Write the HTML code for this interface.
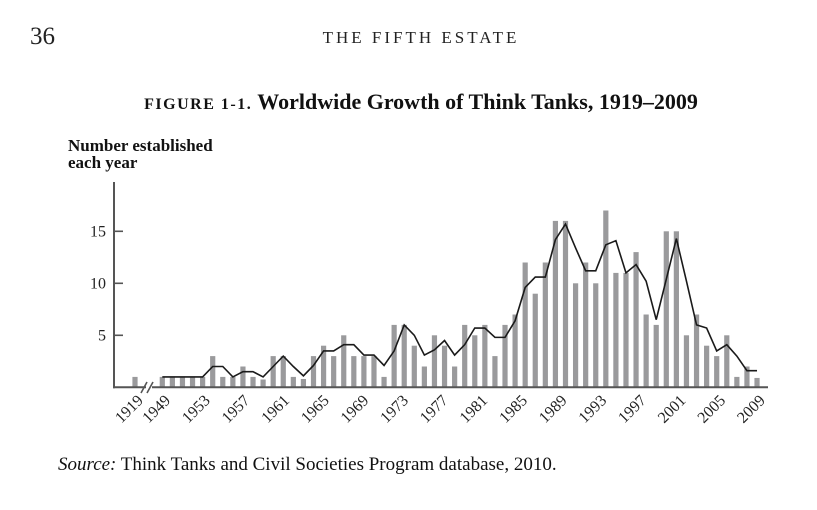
<!DOCTYPE html>
<html><head><meta charset="utf-8"><style>
body{margin:0;background:#fff;}
svg{display:block;font-family:"Liberation Serif",serif;}
</style></head><body>
<svg width="817" height="510" viewBox="0 0 817 510">
<text x="30" y="44" font-size="25" fill="#222">36</text>
<text x="421" y="43" font-size="17" letter-spacing="3" text-anchor="middle" fill="#222">THE FIFTH ESTATE</text>
<text x="421" y="109" font-size="22" text-anchor="middle" fill="#111" font-weight="bold"><tspan font-size="16" letter-spacing="1.5">FIGURE 1-1.</tspan> Worldwide Growth of Think Tanks, 1919–2009</text>
<text x="68" y="151" font-size="17" font-weight="bold" fill="#111"><tspan x="68">Number established</tspan><tspan x="68" dy="17">each year</tspan></text>
<text x="58" y="470" font-size="19" fill="#111"><tspan font-style="italic">Source:</tspan> Think Tanks and Civil Societies Program database, 2010.</text>
<g id="chart"></g>
</svg>
<script>
const earlyCategory = ["1919"];
const earlyValue = [1];
const categories = ["1949","1950","1951","1952","1953","1954","1955","1956","1957","1958","1959","1960","1961","1962","1963","1964","1965","1966","1967","1968","1969","1970","1971","1972","1973","1974","1975","1976","1977","1978","1979","1980","1981","1982","1983","1984","1985","1986","1987","1988","1989","1990","1991","1992","1993","1994","1995","1996","1997","1998","1999","2000","2001","2002","2003","2004","2005","2006","2007","2009"];
const barValues = [1,1,1,1,1,3,1,1,2,1,0.75,3,3,1,0.8,3,4,3,5,3,3,3,1,6,6,4,2,5,4,2,6,5,6,3,6,7,12,9,12,16,16,10,12,10,17,11,11,13,7,6,15,15,5,7,4,3,5,1,2,0.9];
const avgValues = [1,1,1,1,1,2,2,1,1.5,1.5,1,2,3,2,1.1,2.1,3.5,3.5,4.1,4.1,3.1,3.1,2.1,3.5,6,5,3.1,3.6,4.5,3.1,4.1,5.7,5.7,4.8,4.8,6.4,9.6,10.6,10.6,14.2,15.7,13.4,11.2,11.2,13.7,14.1,11,11.8,10.2,6.5,10.4,14.3,10.2,6,5.7,3.5,4.1,3,1.6,1.6];
const yTicks = [5,10,15];
const tickLabels = ["1949","1953","1957","1961","1965","1969","1973","1977","1981","1985","1989","1993","1997","2001","2005","2009"];

const NS="http://www.w3.org/2000/svg";
const g=document.getElementById('chart');
const x0=162.3, step=10.08, base=387.3, unit=10.4;
const xIdx=i=>x0+i*step;
const yv=v=>base-v*unit;
const xYear=y=>162.3+(y-1949)*(757-162.3)/60;
function mk(t,a){const e=document.createElementNS(NS,t);for(const k in a)e.setAttribute(k,a[k]);g.appendChild(e);return e;}
barValues.forEach((v,i)=>{
  const r=mk('rect',{x:xIdx(i)-2.6,y:yv(v),width:5.2,height:v*unit,fill:'#9a9a9c'});
  
  
});
earlyValue.forEach((v,i)=>{
  const r=mk('rect',{x:135-2.6,y:yv(v),width:5.2,height:v*unit,fill:'#9a9a9c'});
  
  
});
const pl=mk('polyline',{points:avgValues.map((v,i)=>xIdx(i)+','+yv(v)).join(' '),fill:'none',stroke:'#1a1a1a','stroke-width':1.6,'stroke-linejoin':'miter'});


const ya=mk('line',{x1:114,y1:182,x2:114,y2:base+1,stroke:'#555','stroke-width':2});


const xa1=mk('line',{x1:113,y1:base,x2:146,y2:base,stroke:'#555','stroke-width':2});


const xa2=mk('line',{x1:152,y1:base,x2:768,y2:base,stroke:'#555','stroke-width':2});


const br=mk('path',{d:'M141,393 L147,382 M147,393 L153,382',stroke:'#555','stroke-width':1.6,fill:'none'});


yTicks.forEach(t=>{
  const l=mk('line',{x1:114,y1:yv(t),x2:123,y2:yv(t),stroke:'#555','stroke-width':1.6});
  
  
  const tx=mk('text',{x:106,y:yv(t)+5,'font-size':16,'text-anchor':'end',fill:'#222'});
  tx.textContent=t;
  
  
});
function xl(label,x){
  const t=mk('text',{x:x+9,y:base+14,'font-size':16,'text-anchor':'end',fill:'#222',transform:`rotate(-45 ${x+9} ${base+14})`});
  t.textContent=label;
  
  
}
xl(earlyCategory[0],135);
tickLabels.forEach(l=>xl(l,xYear(+l)));
</script>
</body></html>
